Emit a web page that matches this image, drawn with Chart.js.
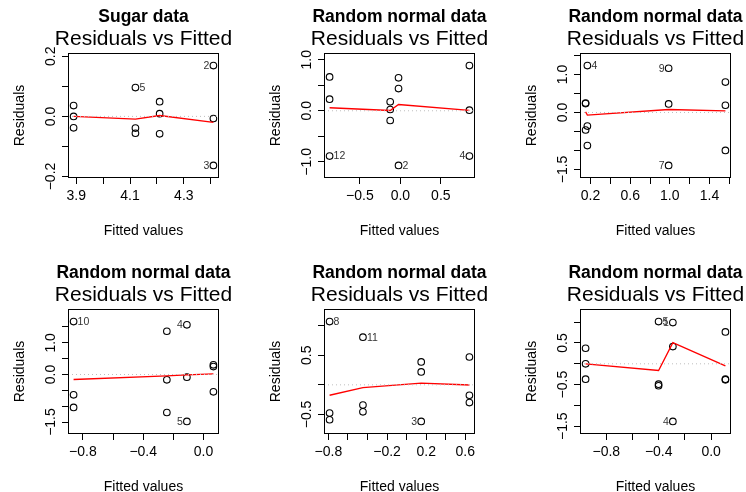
<!DOCTYPE html>
<html>
<head>
<meta charset="utf-8">
<script src="https://cdn.jsdelivr.net/npm/chart.js@4"></script>
<style>
html,body{margin:0;padding:0;background:#fff;}
#wrap{position:relative;width:746px;height:492px;overflow:hidden;background:#fff;}
#wrap canvas{position:absolute;}
</style>
</head>
<body>
<div id="wrap"></div>
<script>
// ---------- text ----------
const mainTitles = ["Sugar data","Random normal data","Random normal data","Random normal data","Random normal data","Random normal data"];
const captionText = "Residuals vs Fitted";
const xAxisTitle = "Fitted values";
const yAxisTitle = "Residuals";

// ---------- panel 1 ----------
const p1Fitted = [3.89,3.89,3.89,4.12,4.12,4.12,4.21,4.21,4.21,4.41,4.41,4.41];
const p1Resid  = [0.036,0.000,-0.038,0.096,-0.039,-0.056,0.049,0.009,-0.058,0.169,-0.007,-0.163];
const p1Ids    = ["","","","5","","","","","","2","","3"];
const p1SmoothX = [3.89,4.12,4.21,4.41];
const p1SmoothY = [0.000,-0.009,0.003,-0.020];
const p1XTicks = [3.9,4.0,4.1,4.2,4.3,4.4];
const p1XLabels = ["3.9","","4.1","","4.3",""];
const p1YTicks = [-0.2,-0.1,0,0.1,0.2];
const p1YLabels = ["\u22120.2","","0.0","","0.2"];

// ---------- panel 2 ----------
const p2Fitted = [-0.875,-0.875,-0.875,-0.126,-0.126,-0.126,-0.023,-0.023,-0.023,0.853,0.853,0.853];
const p2Resid  = [0.664,0.227,-0.887,0.176,0.025,-0.190,0.645,0.436,-1.070,0.885,0.012,-0.887];
const p2Ids    = ["","","12","","","","","","2","","","4"];
const p2SmoothX = [-0.875,-0.126,-0.023,0.853];
const p2SmoothY = [0.059,0.006,0.123,0.006];
const p2XTicks = [-0.5,0,0.5];
const p2XLabels = ["\u22120.5","0.0","0.5"];
const p2YTicks = [-1,-0.5,0,0.5,1];
const p2YLabels = ["\u22121.0","","0.0","","1.0"];

// ---------- panel 3 ----------
const p3Fitted = [0.150,0.150,0.150,0.168,0.168,0.168,0.988,0.988,0.988,1.561,1.561,1.561];
const p3Resid  = [0.250,0.235,-0.462,1.235,-0.358,-0.872,1.165,0.225,-1.394,0.800,0.190,-1.000];
const p3Ids    = ["","","","4","","","9","","7","","",""];
const p3SmoothX = [0.150,0.168,0.988,1.561];
const p3SmoothY = [0.017,-0.070,0.078,0.042];
const p3XTicks = [0.2,0.4,0.6,0.8,1.0,1.2,1.4,1.6];
const p3XLabels = ["0.2","","0.6","","1.0","","1.4",""];
const p3YTicks = [-1.5,-1,-0.5,0,0.5,1,1.5];
const p3YLabels = ["\u22121.5","","","0.0","","1.0",""];

// ---------- panel 4 ----------
const p4Fitted = [-0.862,-0.862,-0.862,-0.243,-0.243,-0.243,-0.110,-0.110,-0.110,0.066,0.066,0.066];
const p4Resid  = [1.670,-0.640,-1.040,1.365,-0.168,-1.200,1.567,-0.085,-1.480,0.305,0.250,-0.547];
const p4Ids    = ["10","","","","","","4","","5","","",""];
const p4SmoothX = [-0.862,-0.243,-0.110,0.066];
const p4SmoothY = [-0.158,-0.040,-0.013,0.020];
const p4XTicks = [-0.8,-0.6,-0.4,-0.2,0];
const p4XLabels = ["\u22120.8","","\u22120.4","","0.0"];
const p4YTicks = [-1.5,-1,-0.5,0,0.5,1,1.5];
const p4YLabels = ["\u22121.5","","","0.0","","1.0",""];

// ---------- panel 5 ----------
const p5Fitted = [-0.788,-0.788,-0.788,-0.447,-0.447,-0.447,0.149,0.149,0.149,0.642,0.642,0.642];
const p5Resid  = [1.069,-0.477,-0.590,0.806,-0.343,-0.456,0.387,0.219,-0.618,0.471,-0.176,-0.300];
const p5Ids    = ["8","","","11","","","","","3","","",""];
const p5SmoothX = [-0.788,-0.447,0.149,0.642];
const p5SmoothY = [-0.176,-0.048,0.030,-0.003];
const p5XTicks = [-0.8,-0.6,-0.4,-0.2,0,0.2,0.4,0.6];
const p5XLabels = ["\u22120.8","","","\u22120.2","","0.2","","0.6"];
const p5YTicks = [-0.5,0,0.5,1];
const p5YLabels = ["\u22120.5","","0.5",""];

// ---------- panel 6 ----------
const p6Fitted = [-0.958,-0.958,-0.958,-0.401,-0.401,-0.401,-0.292,-0.292,-0.292,0.109,0.109,0.109];
const p6Resid  = [0.374,0.000,-0.369,1.014,-0.489,-0.528,0.990,0.415,-1.384,0.767,-0.369,-0.384];
const p6Ids    = ["","","","5","","","1","","4","","",""];
const p6IdSide = ["","","","right","","","left","","left","","",""];
const p6SmoothX = [-0.958,-0.401,-0.292,0.109];
const p6SmoothY = [0.000,-0.160,0.510,-0.050];
const p6XTicks = [-0.8,-0.6,-0.4,-0.2,0];
const p6XLabels = ["\u22120.8","","\u22120.4","","0.0"];
const p6YTicks = [-1.5,-1,-0.5,0,0.5,1];
const p6YLabels = ["\u22121.5","","\u22120.5","","0.5",""];

const panels = [
  {fitted:p1Fitted,resid:p1Resid,ids:p1Ids,sx:p1SmoothX,sy:p1SmoothY,xt:p1XTicks,xl:p1XLabels,yt:p1YTicks,yl:p1YLabels},
  {fitted:p2Fitted,resid:p2Resid,ids:p2Ids,sx:p2SmoothX,sy:p2SmoothY,xt:p2XTicks,xl:p2XLabels,yt:p2YTicks,yl:p2YLabels},
  {fitted:p3Fitted,resid:p3Resid,ids:p3Ids,sx:p3SmoothX,sy:p3SmoothY,xt:p3XTicks,xl:p3XLabels,yt:p3YTicks,yl:p3YLabels},
  {fitted:p4Fitted,resid:p4Resid,ids:p4Ids,sx:p4SmoothX,sy:p4SmoothY,xt:p4XTicks,xl:p4XLabels,yt:p4YTicks,yl:p4YLabels},
  {fitted:p5Fitted,resid:p5Resid,ids:p5Ids,sx:p5SmoothX,sy:p5SmoothY,xt:p5XTicks,xl:p5XLabels,yt:p5YTicks,yl:p5YLabels},
  {fitted:p6Fitted,resid:p6Resid,ids:p6Ids,side:p6IdSide,sx:p6SmoothX,sy:p6SmoothY,xt:p6XTicks,xl:p6XLabels,yt:p6YTicks,yl:p6YLabels}
];

const FONT = '"Liberation Sans", Arial, Helvetica, sans-serif';
const CELL = 256;
const wrap = document.getElementById('wrap');

function makePanel(idx, P) {
  const col = idx % 3, row = Math.floor(idx / 3);
  const cv = document.createElement('canvas');
  cv.width = CELL; cv.height = CELL;
  cv.style.left = (CELL * col) + 'px';
  cv.style.top = (CELL * row) + 'px';
  cv.style.width = CELL + 'px'; cv.style.height = CELL + 'px';
  wrap.appendChild(cv);

  // axis limits the way R's plot.lm does it
  const fx0 = Math.min(...P.fitted), fx1 = Math.max(...P.fitted);
  const xpad = 0.04 * (fx1 - fx0);
  const xmin = fx0 - xpad, xmax = fx1 + xpad;
  const r0 = Math.min(...P.resid), r1 = Math.max(...P.resid);
  const ext = 0.08 * (r1 - r0);
  const e0 = r0 - ext, e1 = r1 + ext;
  const ypad = 0.04 * (e1 - e0);
  const ymin = e0 - ypad, ymax = e1 + ypad;
  const xmid = (fx0 + fx1) / 2;

  const pts = P.fitted.map((x, i) => ({x: x, y: P.resid[i]}));
  const smooth = P.sx.map((x, i) => ({x: x, y: P.sy[i]}));

  const plugin = {
    id: 'rpanel' + idx,
    afterDraw(chart) {
      const ctx = chart.ctx, a = chart.chartArea;
      const xs = chart.scales.x, ys = chart.scales.y;
      ctx.save();
      // box
      ctx.strokeStyle = '#000'; ctx.lineWidth = 1;
      const L = Math.round(a.left) + 0.5, T = Math.round(a.top) + 0.5;
      const R = Math.round(a.right) - 0.5, B = Math.round(a.bottom) - 0.5;
      ctx.strokeRect(L, T, R - L, B - T);
      ctx.fillStyle = '#000';
      // x tick labels
      ctx.font = '14px ' + FONT;
      ctx.textAlign = 'center'; ctx.textBaseline = 'alphabetic';
      P.xt.forEach((v, i) => {
        if (P.xl[i]) ctx.fillText(P.xl[i], xs.getPixelForValue(v), a.bottom + 22);
      });
      // y tick labels (rotated)
      P.yt.forEach((v, i) => {
        if (!P.yl[i]) return;
        ctx.save();
        ctx.translate(a.left - 13, ys.getPixelForValue(v));
        ctx.rotate(-Math.PI / 2);
        ctx.fillText(P.yl[i], 0, 0);
        ctx.restore();
      });
      // axis titles
      const cx = (a.left + a.right) / 2, cy = (a.top + a.bottom) / 2;
      ctx.fillText(xAxisTitle, cx, a.bottom + 57);
      ctx.save();
      ctx.translate(a.left - 44.5, cy);
      ctx.rotate(-Math.PI / 2);
      ctx.fillText(yAxisTitle, 0, 0);
      ctx.restore();
      // titles
      ctx.font = 'bold 17.5px ' + FONT;
      ctx.fillText(mainTitles[idx], cx, a.top - 31);
      ctx.font = '21px ' + FONT;
      ctx.fillText(captionText, cx, a.top - 8);
      // point ids
      ctx.font = '10.5px ' + FONT;
      ctx.fillStyle = '#333';
      ctx.textBaseline = 'middle';
      P.ids.forEach((lab, i) => {
        if (!lab) return;
        const px = xs.getPixelForValue(P.fitted[i]);
        const py = ys.getPixelForValue(P.resid[i]);
        let side = P.side ? P.side[i] : (P.fitted[i] > xmid ? 'left' : 'right');
        if (side === 'left') { ctx.textAlign = 'right'; ctx.fillText(lab, px - 4, py + 0.5); }
        else { ctx.textAlign = 'left'; ctx.fillText(lab, px + 4, py + 0.5); }
      });
      ctx.restore();
    }
  };

  const axisCommon = {
    type: 'linear',
    ticks: {display: false},
    grid: {drawOnChartArea: false, drawTicks: true, tickLength: 6, color: '#000', tickColor: '#000', lineWidth: 1, tickWidth: 1},
    border: {display: false},
    title: {display: false}
  };

  new Chart(cv, {
    type: 'scatter',
    data: {
      datasets: [
        {type: 'line', data: [{x: xmin, y: 0}, {x: xmax, y: 0}], borderColor: '#BEBEBE', backgroundColor: '#BEBEBE', borderDash: [1, 3], borderWidth: 1, pointRadius: 0, fill: false},
        {type: 'line', data: smooth, borderColor: '#FF0000', backgroundColor: '#FF0000', borderWidth: 1.3, pointRadius: 0, tension: 0, fill: false},
        {type: 'scatter', data: pts, pointRadius: 3.3, pointBorderWidth: 1.1, pointBorderColor: '#000', pointBackgroundColor: 'rgba(0,0,0,0)', borderColor: '#000', backgroundColor: 'rgba(0,0,0,0)', pointHoverRadius: 3.3}
      ]
    },
    options: {
      responsive: false,
      animation: false,
      devicePixelRatio: 1,
      events: [],
      layout: {padding: {left: 62, top: 53, right: 37, bottom: 72}},
      plugins: {legend: {display: false}, tooltip: {enabled: false}, title: {display: false}, colors: {enabled: false}},
      scales: {
        x: Object.assign({}, axisCommon, {
          position: 'bottom', min: xmin, max: xmax,
          afterBuildTicks: s => { s.ticks = P.xt.map(v => ({value: v})); }
        }),
        y: Object.assign({}, axisCommon, {
          position: 'left', min: ymin, max: ymax,
          afterBuildTicks: s => { s.ticks = P.yt.map(v => ({value: v})); }
        })
      }
    },
    plugins: [plugin]
  });
}

panels.forEach((P, i) => makePanel(i, P));
</script>
</body>
</html>
